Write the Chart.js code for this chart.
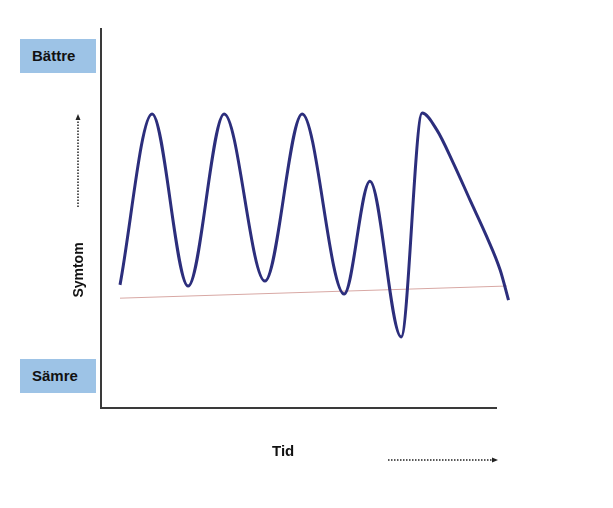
<!DOCTYPE html>
<html>
<head>
<meta charset="utf-8">
<script src="https://cdn.jsdelivr.net/npm/chart.js@4.4.0/dist/chart.umd.min.js"></script>
<style>
    body { margin: 0; background: #fff; }
    #wrap { position: relative; width: 613px; height: 508px; }
    .label { position: absolute; font-family: "Liberation Sans", Arial, sans-serif; font-weight: bold; font-size: 15px; color: #111; }
    .box { background: #9dc3e6; width: 76px; height: 34px; line-height: 34px; padding-left: 12px; box-sizing: border-box; }
</style>
</head>
<body>
<div id="wrap">
    <canvas id="symptomChart" width="613" height="508"></canvas>
    <div class="label box" style="left:20px; top:39px;">Bättre</div>
    <div class="label box" style="left:20px; top:359px;">Sämre</div>
    <div class="label" style="left:49px; top:262px; width:58px; text-align:center; transform:rotate(-90deg); font-size:14px;">Symtom</div>
    <div class="label" style="left:272px; top:442px;">Tid</div>
</div>
<script>
// symptom curve (time 0..100 along the drawn x axis, symptom 0..100 up the y axis)
const timePoints = [4.8, 12.9, 22.0, 31.1, 41.4, 50.8, 61.4, 67.9, 75.8, 81.1, 84.8, 89.0, 93.2, 97.4, 100.8, 102.9];
const symptomValues = [32.4, 77.4, 32.1, 77.4, 33.4, 77.4, 30.0, 59.7, 18.7, 77.6, 73.2, 64.4, 54.7, 45.1, 36.3, 28.4];

// thin baseline
const baselineTime = [4.8, 102.5];
const baselineValues = [28.9, 32.1];

// the drawn time axis stops at 100, the curve runs a little past it
const timeAxisEnd = 100;

function toXY(xs, ys) {
    return xs.map((x, i) => ({ x: x, y: ys[i] }));
}

const axesAndArrows = {
    id: 'axesAndArrows',
    afterDraw(chart) {
        const ctx = chart.ctx;
        const area = chart.chartArea;
        const axisRight = chart.scales.x.getPixelForValue(timeAxisEnd);
        ctx.save();

        // axis lines
        ctx.strokeStyle = '#3a3a3a';
        ctx.lineWidth = 2;
        ctx.beginPath();
        ctx.moveTo(area.left, area.top);
        ctx.lineTo(area.left, area.bottom);
        ctx.lineTo(axisRight, area.bottom);
        ctx.stroke();

        // dotted arrows
        ctx.strokeStyle = '#222';
        ctx.fillStyle = '#222';
        ctx.lineWidth = 1.5;
        ctx.setLineDash([1.5, 1.5]);
        ctx.beginPath();
        ctx.moveTo(78, 207);
        ctx.lineTo(78, 119);
        ctx.moveTo(388, 460);
        ctx.lineTo(493, 460);
        ctx.stroke();
        ctx.setLineDash([]);

        ctx.beginPath();
        ctx.moveTo(78, 114);
        ctx.lineTo(75.5, 120);
        ctx.lineTo(80.5, 120);
        ctx.closePath();
        ctx.fill();

        ctx.beginPath();
        ctx.moveTo(498, 460);
        ctx.lineTo(492, 457.5);
        ctx.lineTo(492, 462.5);
        ctx.closePath();
        ctx.fill();

        ctx.restore();
    }
};

new Chart(document.getElementById('symptomChart'), {
    type: 'scatter',
    data: {
        datasets: [
            {
                label: 'Symtom',
                data: toXY(timePoints, symptomValues),
                showLine: true,
                borderColor: '#2c2e7c',
                borderWidth: 3,
                pointRadius: 0,
                cubicInterpolationMode: 'monotone',
                clip: false
            },
            {
                label: 'Baslinje',
                data: toXY(baselineTime, baselineValues),
                showLine: true,
                borderColor: '#d8a8a4',
                borderWidth: 1,
                pointRadius: 0,
                clip: false
            }
        ]
    },
    options: {
        responsive: false,
        animation: false,
        layout: {
            padding: { left: 101, right: 100.16, top: 28, bottom: 100 }
        },
        scales: {
            x: { type: 'linear', min: 0, max: 104, display: false },
            y: { type: 'linear', min: 0, max: 100, display: false }
        },
        plugins: {
            legend: { display: false },
            tooltip: { enabled: false }
        }
    },
    plugins: [axesAndArrows]
});
</script>
</body>
</html>
